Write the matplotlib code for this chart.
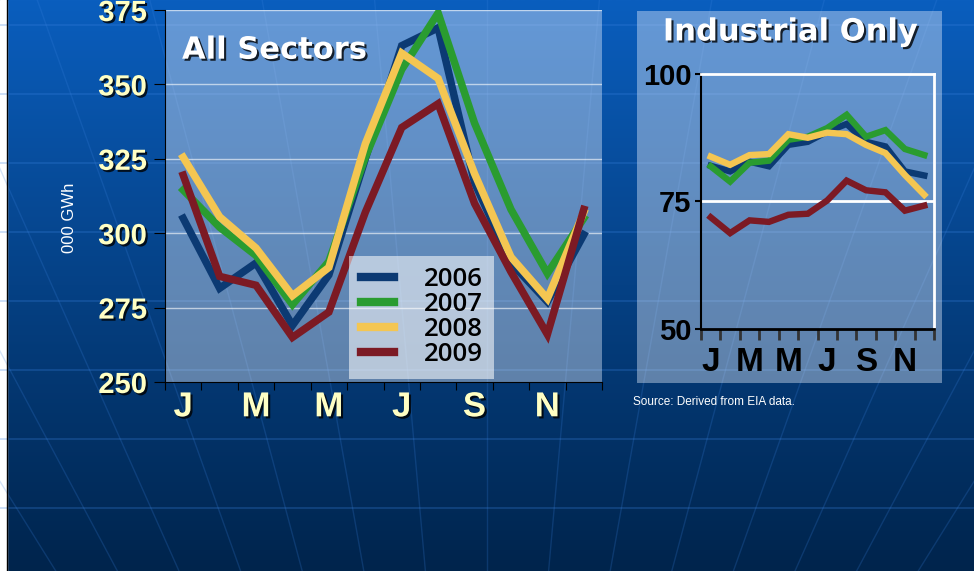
import numpy as np
import matplotlib
matplotlib.use("Agg")
import matplotlib.pyplot as plt
import matplotlib.patheffects as pe
from matplotlib.patches import Rectangle

# Monthly data
months = ["J", "F", "M", "A", "M", "J", "J", "A", "S", "O", "N", "D"]
years = ["2006", "2007", "2008", "2009"]
colors = ["#0c3a73", "#2a9c30", "#f4c652", "#7c1a24"]

# All sectors, thousand GWh
all_2006 = [305, 281.5, 290, 269, 286, 325, 363, 369, 317, 290, 277, 299.5]
all_2007 = [314.5, 302, 292.5, 276, 290.5, 325.5, 355, 374, 337, 308, 286.5, 305]
all_2008 = [325.5, 305.5, 295, 279, 288.5, 330, 360.5, 352, 320, 292, 278, 307]
all_2009 = [319.5, 285.5, 282.5, 265, 273.5, 307, 335.5, 343.5, 310, 287, 266, 308]

# Industrial only
ind_2006 = [82.0, 80.9, 82.8, 81.9, 86.1, 86.7, 88.7, 90.2, 86.7, 85.8, 80.9, 80.1]
ind_2007 = [81.9, 78.9, 82.6, 83.0, 87.1, 87.7, 89.4, 92.0, 87.7, 89.0, 85.3, 84.1]
ind_2008 = [83.8, 82.2, 84.1, 84.3, 88.2, 87.5, 88.5, 88.2, 86.1, 84.5, 80.2, 76.3]
ind_2009 = [71.9, 68.8, 71.3, 71.0, 72.4, 72.6, 75.2, 79.1, 77.2, 76.8, 73.2, 74.2]

all_series = [all_2006, all_2007, all_2008, all_2009]
ind_series = [ind_2006, ind_2007, ind_2008, ind_2009]

W, H = 974, 571
cream = "#ffffc4"
shadow = [pe.SimplePatchShadow(offset=(1.5, -1.5), shadow_rgbFace="black", alpha=0.8), pe.Normal()]

fig = plt.figure(figsize=(W / 100, H / 100), dpi=100)

# slide background: blue gradient with faint globe grid
bg = fig.add_axes([0, 0, 1, 1], zorder=-10)
grad = np.linspace(0, 1, 256).reshape(-1, 1)
top = np.array([0x0a, 0x5e, 0xbe]) / 255
bot = np.array([0x00, 0x24, 0x4c]) / 255
img = (1 - grad)[..., None] * top + grad[..., None] * bot
bg.imshow(img, extent=[0, W, 0, H], aspect="auto", origin="upper")
for yy in np.arange(H - 25, 0, -69):
    bg.axhline(yy, color="#3a82e0", lw=1.2, alpha=0.3)
for xt in np.linspace(-300, W + 300, 15):
    bg.plot([xt, W / 2 + (xt - W / 2) * 0.35], [H, -250], color="#3a82e0", lw=1, alpha=0.22)
bg.add_patch(Rectangle((0, 0), 7, H, color="white"))
bg.axvline(7, color="black", lw=1)
bg.set_xlim(0, W)
bg.set_ylim(0, H)
bg.axis("off")

x = np.arange(12) + 0.5

# ---- left chart: all sectors ----
ax = fig.add_axes([165 / W, 1 - 382 / H, 437 / W, 372 / H])
ax.set_facecolor((0.92, 0.95, 1.0, 0.4))
for yv in [275, 300, 325, 350, 375]:
    ax.axhline(yv, color="white", lw=1, alpha=0.6, zorder=1)
for vals, c, lab in zip(all_series, colors, years):
    ax.plot(x, vals, color=c, lw=5.4, solid_joinstyle="miter", label=lab, zorder=3)
ax.set_xlim(0, 12)
ax.set_ylim(250, 375)
for s in ["top", "right"]:
    ax.spines[s].set_visible(False)
ax.spines["left"].set_color("black")
ax.spines["bottom"].set_color("black")
ax.set_yticks([250, 275, 300, 325, 350, 375])
ax.tick_params(axis="y", length=8, color="black", pad=5, labelsize=21, labelcolor=cream)
for t in ax.get_yticklabels():
    t.set_fontweight("bold")
    t.set_family("Liberation Sans")
    t.set_path_effects(shadow)
ax.set_xticks(range(13))
ax.set_xticklabels([""] * 13)
ax.tick_params(axis="x", which="major", length=6, color="black")
ax.set_xticks(x[::2], minor=True)
ax.set_xticklabels(months[::2], minor=True)
ax.tick_params(axis="x", which="minor", length=0, pad=6, labelsize=25, labelcolor=cream)
for t in ax.get_xticklabels(minor=True):
    t.set_fontweight("bold")
    t.set_family("Liberation Sans")
    t.set_path_effects(shadow)
ax.text(0.039, 0.892, "All Sectors", transform=ax.transAxes, fontsize=22, fontweight="bold",
        color="white", va="center", ha="left", path_effects=shadow)
leg = ax.legend(loc="lower left", bbox_to_anchor=(0.421, 0.008), borderaxespad=0,
                frameon=True, fancybox=False, facecolor="white", framealpha=0.55, edgecolor="none",
                prop={"family": "Open Sans", "size": 18.5, "weight": "semibold"},
                handlelength=1.3, handletextpad=1.15, labelspacing=0.0, borderpad=0.45)
for ln in leg.get_lines():
    ln.set_linewidth(6)
fig.text(70 / W, 1 - 218 / H, "000 GWh", rotation=90, color="white", fontsize=12,
         family="Liberation Sans", ha="center", va="center")

# ---- right chart: industrial only ----
fig.patches.append(Rectangle((637 / W, 1 - 383 / H), 305 / W, 372 / H, transform=fig.transFigure,
                             facecolor=(0.92, 0.95, 1.0), alpha=0.4, edgecolor="none", zorder=-5))
fig.text(790 / W, 1 - 32 / H, "Industrial Only", fontsize=22, fontweight="bold", color="white",
         ha="center", va="center", path_effects=shadow)
ax2 = fig.add_axes([701 / W, 1 - 329 / H, 233 / W, 255 / H])
ax2.set_facecolor("none")
ax2.axhline(75, color="white", lw=2, zorder=1)
for vals, c in zip(ind_series, colors):
    ax2.plot(x, vals, color=c, lw=4.6, solid_joinstyle="miter", zorder=3)
ax2.set_xlim(0, 12)
ax2.set_ylim(50, 100)
ax2.spines["left"].set_color("black")
ax2.spines["left"].set_linewidth(1.5)
ax2.spines["bottom"].set_color("black")
ax2.spines["bottom"].set_linewidth(2)
ax2.spines["top"].set_color("white")
ax2.spines["top"].set_linewidth(2)
ax2.spines["right"].set_color("white")
ax2.spines["right"].set_linewidth(2)
ax2.set_yticks([50, 75, 100])
ax2.tick_params(axis="y", length=4, color="black", width=1.5, pad=3, labelsize=21, labelcolor="black")
for t in ax2.get_yticklabels():
    t.set_fontweight("bold")
    t.set_family("Liberation Sans")
ax2.set_xticks(range(13))
ax2.set_xticklabels([""] * 13)
ax2.tick_params(axis="x", which="major", length=8, width=2, color="#333333")
ax2.set_xticks(x[::2], minor=True)
ax2.set_xticklabels(months[::2], minor=True)
ax2.tick_params(axis="x", which="minor", length=0, pad=13, labelsize=24, labelcolor="black")
for t in ax2.get_xticklabels(minor=True):
    t.set_fontweight("bold")
    t.set_family("Liberation Sans")

fig.text(633 / W, 1 - 402 / H, "Source: Derived from EIA data.", color="white", fontsize=8.5,
         family="Liberation Sans", ha="left", va="center")

fig.savefig("out.png", dpi=100)
